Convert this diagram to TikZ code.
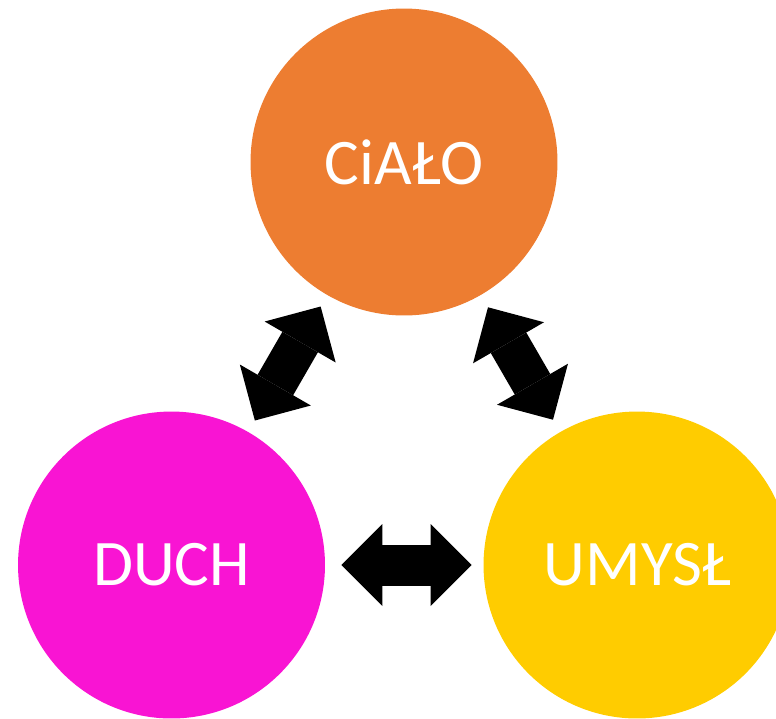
\documentclass[tikz,border=0pt]{standalone}
\usepackage{fontspec}
\setmainfont{Carlito}
\usepackage{tikz}
\usetikzlibrary{arrows.meta}
\definecolor{cialoC}{HTML}{ED7D31}
\definecolor{duchC}{HTML}{F914D3}
\definecolor{umyslC}{HTML}{FFCC00}
\tikzset{
  krag/.style={circle, fill=#1, minimum size=6.14cm, inner sep=0pt,
               text=white, font=\fontsize{37}{44}\selectfont},
  blok/.style={line width=0.82cm, draw=black,
               {Triangle[length=0.82cm,width=1.64cm,line width=0pt]}-{Triangle[length=0.82cm,width=1.64cm,line width=0pt]}},
}
\begin{document}
\begin{tikzpicture}[x=0.02cm, y=-0.02cm]
  \useasboundingbox (0,0) rectangle (776,718);
  \clip (0,0) rectangle (776,718);
  \node[krag=cialoC] (cialo) at (404,162) {CiAŁO};
  \node[krag=duchC] (duch) at (171.5,565) {DUCH};
  \node[krag=umyslC] (umysl) at (637,565) {UMYSŁ};
  \draw[blok, shorten <=0.26cm, shorten >=0.26cm] (duch) -- (cialo);
  \draw[blok, shorten <=0.28cm, shorten >=0.28cm] (cialo) -- (umysl);
  \draw[blok, shorten <=0.32cm, shorten >=0.23cm] (duch) -- (umysl);
\end{tikzpicture}
\end{document}
